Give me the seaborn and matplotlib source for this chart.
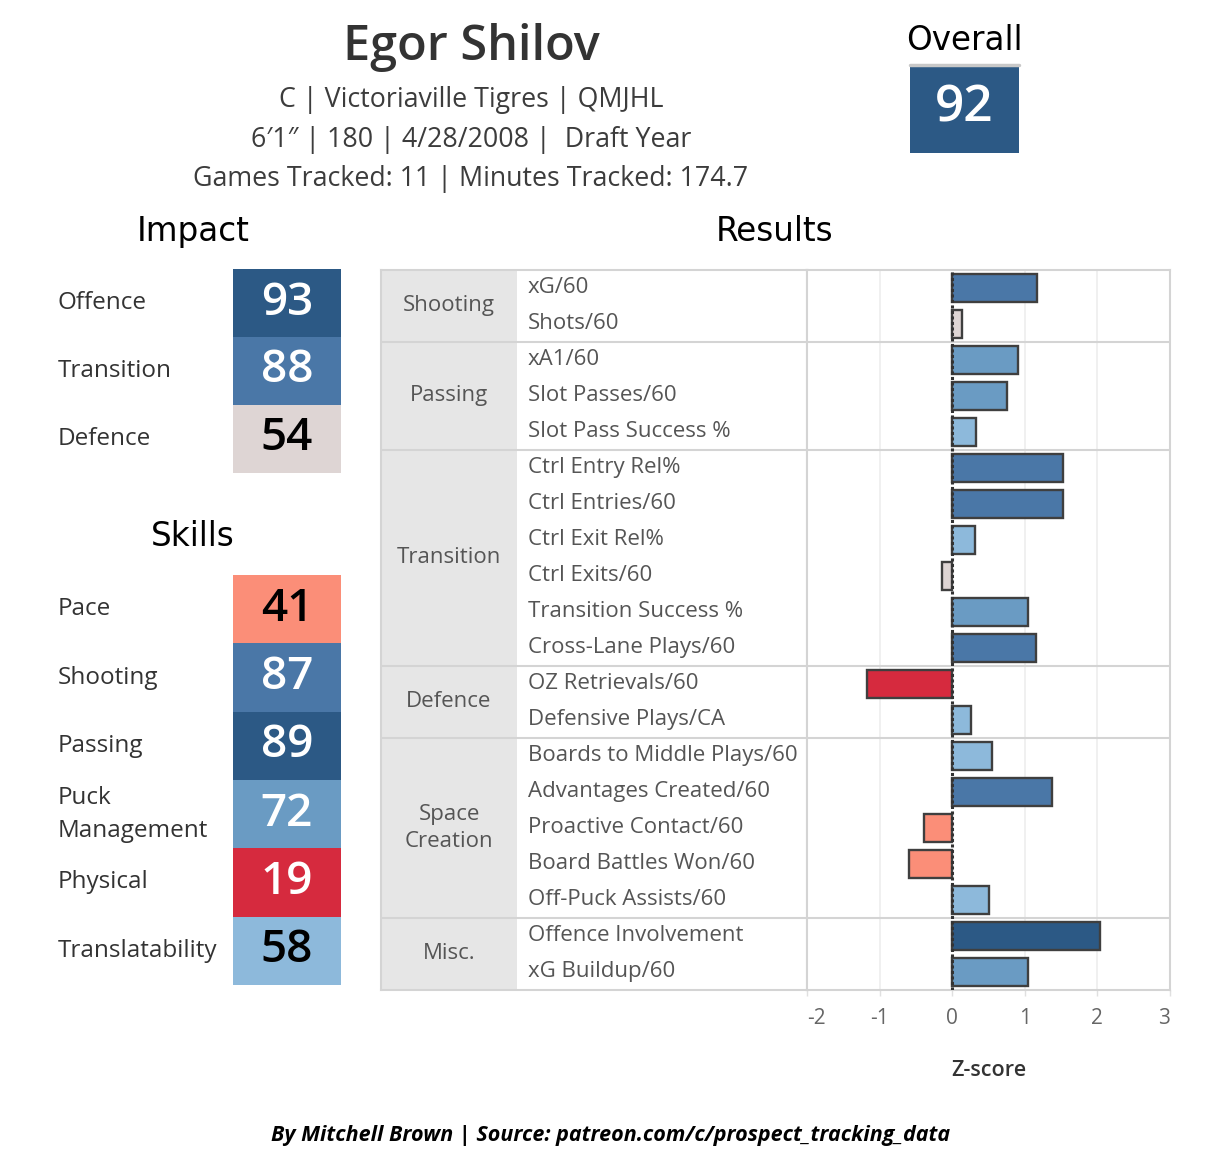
import seaborn as sns
import matplotlib.pyplot as plt
import pandas as pd
import numpy as np
from matplotlib.colors import ListedColormap, BoundaryNorm

player_name = "Egor Shilov"
info_lines = ["C | Victoriaville Tigres | QMJHL",
              "6\u20321\u2033 | 180 | 4/28/2008 |  Draft Year",
              "Games Tracked: 11 | Minutes Tracked: 174.7"]
overall_score = 92

impact_labels = ["Offence", "Transition", "Defence"]
impact_scores = [93, 88, 54]

skill_labels = ["Pace", "Shooting", "Passing", "Puck\nManagement", "Physical", "Translatability"]
skill_scores = [41, 87, 89, 72, 19, 58]

groups = ["Shooting", "Passing", "Transition", "Defence", "Space\nCreation", "Misc."]
group_sizes = [2, 3, 6, 2, 5, 2]
metrics = ["xG/60", "Shots/60",
           "xA1/60", "Slot Passes/60", "Slot Pass Success %",
           "Ctrl Entry Rel%", "Ctrl Entries/60", "Ctrl Exit Rel%", "Ctrl Exits/60",
           "Transition Success %", "Cross-Lane Plays/60",
           "OZ Retrievals/60", "Defensive Plays/CA",
           "Boards to Middle Plays/60", "Advantages Created/60", "Proactive Contact/60",
           "Board Battles Won/60", "Off-Puck Assists/60",
           "Offence Involvement", "xG Buildup/60"]
zscores = [1.17, 0.14,
           0.90, 0.75, 0.33,
           1.52, 1.52, 0.31, -0.14, 1.05, 1.15,
           -1.18, 0.26,
           0.55, 1.37, -0.39, -0.59, 0.51,
           2.04, 1.05]
x_ticks = [-2, -1, 0, 1, 2, 3]

# --- style ---
SCALE = ["#D62A3E", "#FB8E78", "#DED5D4", "#8DB9DB", "#6A9BC3", "#4A77A7", "#2C5985"]
score_cmap = ListedColormap(SCALE)
score_norm = BoundaryNorm([0, 25, 45, 55, 65, 80, 89, 101], len(SCALE))
z_bins = [-np.inf, -1, -0.2, 0.2, 0.6, 1.1, 1.9, np.inf]

TEXT = "#333333"
TABLE_TEXT = "#555555"
GRID = "#D4D4D4"
FONT = "Open Sans"
HEAD = "DejaVu Sans"

sns.set_theme(style="white")
plt.rcParams["font.family"] = [FONT, "DejaVu Sans"]

W, H = 1222, 1166
fig = plt.figure(figsize=(W / 100, H / 100), dpi=100)


def px_box(x0, y0, x1, y1):
    return [x0 / W, 1 - y1 / H, (x1 - x0) / W, (y1 - y0) / H]


def fig_text(x, y, s, **kw):
    fig.text(x / W, 1 - y / H, s, ha=kw.pop("ha", "center"), va=kw.pop("va", "center"), **kw)


# --- header ---
fig_text(471, 48, player_name, fontsize=35, color=TEXT, fontweight="semibold")
for i, line in enumerate(info_lines):
    fig_text(471, 100 + i * 39.5, line, fontsize=19.3, color="#3c3c3c")

fig_text(964, 40, "Overall", fontsize=23.5, color="black", family=HEAD)
fig_text(193, 231, "Impact", fontsize=23.5, color="black", family=HEAD)
fig_text(193, 537, "Skills", fontsize=23.5, color="black", family=HEAD)
fig_text(775, 231, "Results", fontsize=23.5, color="black", family=HEAD)


def score_block(ax, scores, labels, size=33):
    sns.heatmap(np.array(scores).reshape(-1, 1), ax=ax, cmap=score_cmap, norm=score_norm,
                cbar=False, annot=True, fmt="d", xticklabels=False,
                yticklabels=labels if labels else False,
                annot_kws={"fontsize": size, "fontweight": "semibold"})
    for t in ax.texts:
        v = int(t.get_text())
        t.set_color("black" if 40 <= v < 65 else "white")
    if labels:
        ax.tick_params(axis="y", length=0, pad=126)
        for lab in ax.get_yticklabels():
            lab.set_rotation(0)
            lab.set_ha("left")
            lab.set_fontsize(17.5)
            lab.set_color(TEXT)
            lab.set_linespacing(1.5)


ax_over = fig.add_axes(px_box(910, 65, 1019, 153))
score_block(ax_over, [overall_score], None, size=37)
ax_over.axhline(0, color="#C8C8C8", lw=2.5, clip_on=False)

ax_imp = fig.add_axes(px_box(233, 269, 341, 473))
score_block(ax_imp, impact_scores, impact_labels)

ax_sk = fig.add_axes(px_box(233, 575, 341, 985))
score_block(ax_sk, skill_scores, skill_labels)

# --- results table ---
df = pd.DataFrame({"metric": metrics, "z": zscores})
df["color"] = pd.cut(df["z"], z_bins, labels=SCALE).astype(str)
palette = dict(zip(df["metric"], df["color"]))
n = len(metrics)
bounds = np.cumsum([0] + group_sizes)

ax_tab = fig.add_axes(px_box(381, 270, 807, 990))
ax_bar = fig.add_axes(px_box(807, 270, 1170, 990))

col_split = (517 - 381) / (807 - 381)
ax_tab.set_xlim(0, 1)
ax_tab.set_ylim(n - 0.5, -0.5)
ax_tab.axvspan(0, col_split, color="#E6E6E6", lw=0)
for g, a, b in zip(groups, bounds[:-1], bounds[1:]):
    ax_tab.text(col_split / 2, (a + b - 1) / 2, g, ha="center", va="center",
                fontsize=16, color=TABLE_TEXT, linespacing=1.35)
for i, m in enumerate(metrics):
    ax_tab.text((528 - 381) / (807 - 381), i, m, ha="left", va="center",
                fontsize=16, color=TABLE_TEXT)
ax_tab.set_xticks([])
ax_tab.set_yticks([])

sns.barplot(data=df, x="z", y="metric", hue="metric", palette=palette, legend=False,
            order=metrics, orient="h", width=0.78, saturation=1,
            edgecolor="#3f3f3f", linewidth=1.7, ax=ax_bar, zorder=3)
ax_bar.set_xlim(x_ticks[0], x_ticks[-1])
ax_bar.set_ylim(n - 0.5, -0.5)
ax_bar.set_yticks([])
ax_bar.set_ylabel("")
ax_bar.set_xticks(x_ticks)
ax_bar.set_xticklabels([str(t) for t in x_ticks], fontsize=15, color="#666666")
ax_bar.get_xticklabels()[0].set_ha("left")
ax_bar.get_xticklabels()[-1].set_ha("right")
ax_bar.tick_params(axis="x", bottom=True, length=4, width=1, color="#E0E0E0", pad=9)
ax_bar.set_xlabel("Z-score", fontsize=15.5, color=TEXT, fontweight="semibold", labelpad=22)
for t in x_ticks:
    if t not in (x_ticks[0], 0, x_ticks[-1]):
        ax_bar.axvline(t, color="#EEEEEE", lw=1.2, zorder=1)
ax_bar.axvline(0, color="#333333", lw=2.2, ls=(0, (1, 0.8)), zorder=4)

for ax in (ax_tab, ax_bar):
    for b in bounds[1:-1]:
        ax.axhline(b - 0.5, color=GRID, lw=1.5, zorder=2)
    for sp in ax.spines.values():
        sp.set_visible(True)
        sp.set_color(GRID)
        sp.set_linewidth(1.5)

# --- footer ---
fig_text(611, 1135, "By Mitchell Brown | Source: patreon.com/c/prospect_tracking_data",
         fontsize=15.5, color="black", fontweight="bold", fontstyle="italic")

plt.savefig("out.png", dpi=100)
plt.close()
